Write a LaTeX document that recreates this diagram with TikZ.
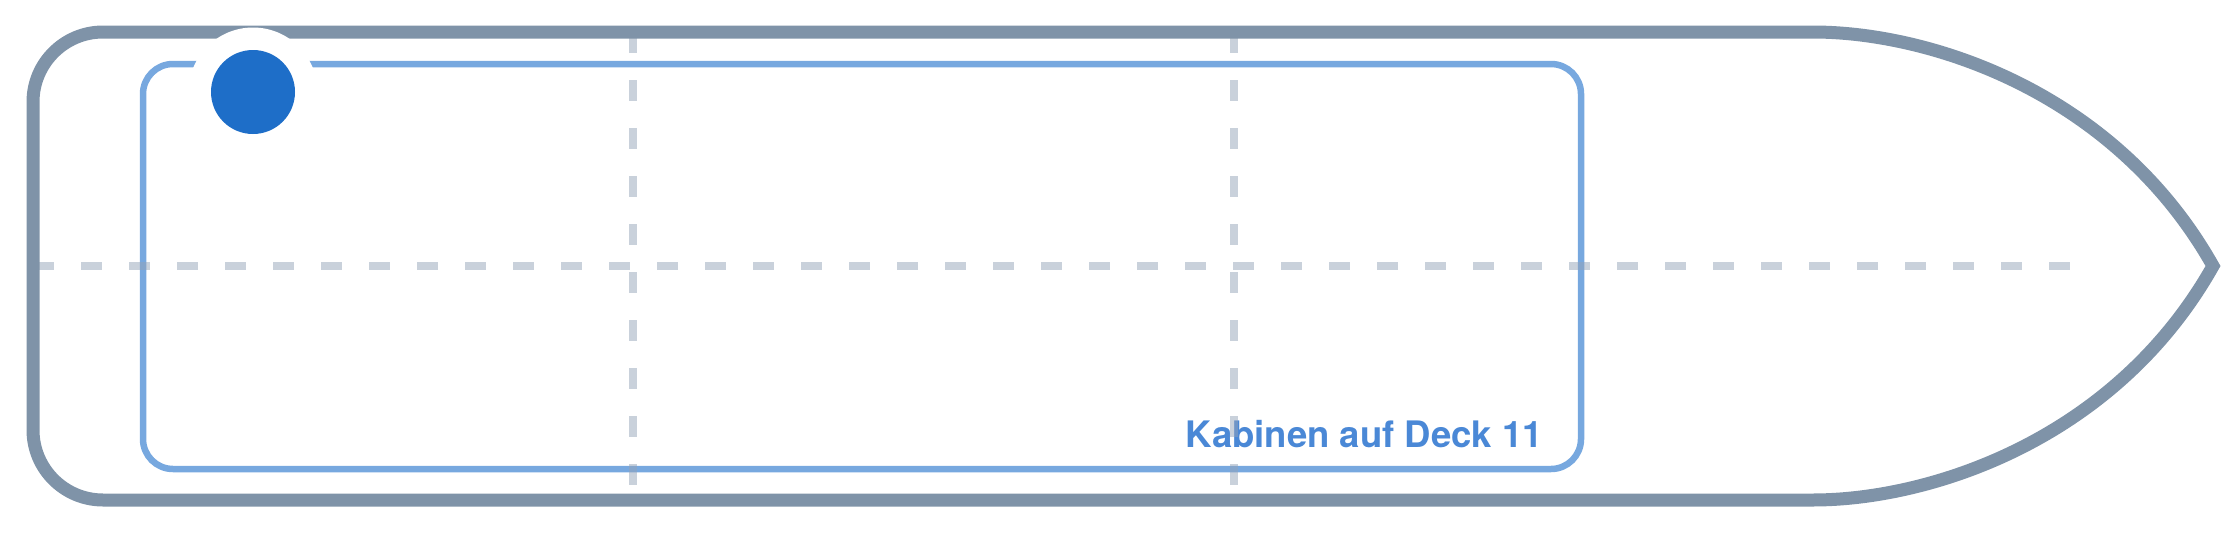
\documentclass[tikz,border=0pt]{standalone}
\usepackage{fontspec}
\setmainfont{TeX Gyre Heros}
\definecolor{hullc}{HTML}{7F93A8}
\definecolor{innerc}{HTML}{77A8DF}
\definecolor{gridc}{HTML}{94A3B8}
\definecolor{markc}{HTML}{1E6EC8}
\definecolor{labelc}{HTML}{4A88D6}
\begin{document}
\begin{tikzpicture}[x=1pt,y=-1pt,
  hull/.style={draw=hullc, line width=13pt, miter limit=10},
  innerbox/.style={draw=innerc, line width=6.5pt, rounded corners=30pt},
  gridline/.style={draw=gridc, draw opacity=0.5, line width=7.5pt, dash pattern=on 21pt off 27pt},
  marker/.style={circle, fill=markc, minimum size=84pt, inner sep=0pt},
  halo/.style={fill=white},
  deck/.style={anchor=base east, text=labelc, inner sep=0pt, font=\bfseries\fontsize{36.5}{40}\selectfont}]
\useasboundingbox (0,0) rectangle (2240,533);
% inner cabin area
\draw[innerbox] (143,64) rectangle (1581,469);
% label
\node[deck] (label) at (1543,447) {Kabinen auf Deck 11};
% grid lines
\coordinate (hA) at (33,266);
\coordinate (hB) at (2080,266);
\coordinate (v1A) at (633,32);
\coordinate (v1B) at (633,500);
\coordinate (v2A) at (1234,32);
\coordinate (v2B) at (1234,500);
\draw[gridline] (hA) -- (hB);
\draw[gridline] (v1A) -- (v1B);
\draw[gridline] (v2A) -- (v2B);
% hull
\draw[hull] (103,32) -- (1813,32)
  .. controls (1930,32) and (2115,92) .. (2213,266)
  .. controls (2115,440) and (1930,500) .. (1813,500)
  -- (103,500)
  .. controls (64.3,500) and (33,468.7) .. (33,430)
  -- (33,102)
  .. controls (33,63.3) and (64.3,32) .. (103,32) -- cycle;
% marker
\fill[halo] (253,92) circle (64.5);
\node[marker] (mark) at (253,92) {};
\end{tikzpicture}
\end{document}
